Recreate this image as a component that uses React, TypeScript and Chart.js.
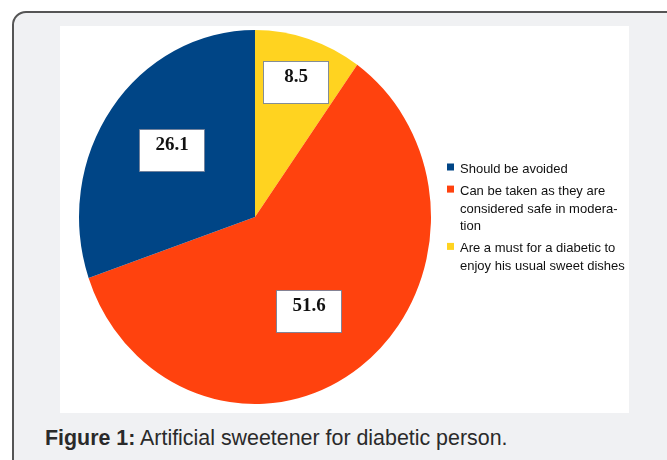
import React, { useEffect, useRef } from "react";
import { Chart, registerables } from "chart.js";

Chart.register(...registerables);

// ---- data (legend order) ----
const categories = [
  "Should be avoided",
  "Can be taken as they are considered safe in moderation",
  "Are a must for a diabetic to enjoy his usual sweet dishes",
];
const legendLines = [
  ["Should be avoided"],
  ["Can be taken as they are", "considered safe in modera-", "tion"],
  ["Are a must for a diabetic to", "enjoy his usual sweet dishes"],
];
const values = [26.1, 51.6, 8.5];
const colors = ["#004586", "#ff420e", "#ffd320"];
const captionBold = "Figure 1:";
const captionText = " Artificial sweetener for diabetic person.";

// ---- style ----
const STRETCH_Y = 1.0625;
const labelRadius = [0.593, 0.588, 0.756];
const labelAngleShift = [1.4, 5.5, 0];
const CANVAS_W = 569;
const CANVAS_H = 387;

const ellipsePlugin = {
  id: "ellipseStretch",
  beforeDatasetsDraw(chart: any) {
    const ctx = chart.ctx;
    ctx.save();
    const arc = chart.getDatasetMeta(0).data[0];
    if (arc) {
      const { x, y } = arc.getProps(["x", "y"], true);
      ctx.translate(x, y);
      ctx.scale(1, STRETCH_Y);
      ctx.translate(-x, -y);
    }
  },
  afterDatasetsDraw(chart: any) {
    chart.ctx.restore();
  },
};

const labelPlugin = {
  id: "valueBoxes",
  afterDraw(chart: any) {
    const ctx = chart.ctx;
    const meta = chart.getDatasetMeta(0);
    const data = chart.data.datasets[0].data as number[];
    const n = data.length;
    meta.data.forEach((el: any, i: number) => {
      const src = n - 1 - i;
      const { x, y, startAngle, endAngle, outerRadius } = el.getProps(
        ["x", "y", "startAngle", "endAngle", "outerRadius"],
        true
      );
      const mid = (startAngle + endAngle) / 2 + (labelAngleShift[src] * Math.PI) / 180;
      const r = outerRadius * labelRadius[src];
      const cx = x + Math.cos(mid) * r;
      const cy = y + Math.sin(mid) * r * STRETCH_Y;
      const bw = 65;
      const bh = 42;
      const left = Math.round(cx - bw / 2) + 0.5;
      const top = Math.round(cy - bh / 2) + 0.5;
      ctx.save();
      ctx.fillStyle = "#ffffff";
      ctx.fillRect(left, top, bw, bh);
      ctx.strokeStyle = "rgba(110,125,150,0.85)";
      ctx.lineWidth = 1;
      ctx.strokeRect(left, top, bw, bh);
      ctx.fillStyle = "#111111";
      ctx.font = "bold 19px 'Liberation Serif', 'Times New Roman', serif";
      ctx.textAlign = "center";
      ctx.textBaseline = "alphabetic";
      ctx.fillText(data[i].toFixed(1), left + bw / 2, top + 20.5);
      ctx.restore();
    });
  },
};

const legendPlugin = {
  id: "wrappedLegend",
  afterDraw(chart: any) {
    const ctx = chart.ctx;
    const squareX = 387;
    const textX = 400;
    const lineH = 17.6;
    const gap = 4.5;
    let baseline = 147;
    ctx.save();
    ctx.font = "13px 'Liberation Sans', Arial, sans-serif";
    ctx.textAlign = "left";
    ctx.textBaseline = "alphabetic";
    legendLines.forEach((lines, i) => {
      ctx.fillStyle = colors[i];
      ctx.fillRect(squareX, baseline - 9.5, 7, 7);
      ctx.fillStyle = "#111111";
      lines.forEach((line, j) => {
        ctx.fillText(line, textX, baseline + j * lineH);
      });
      baseline += lines.length * lineH + gap;
    });
    ctx.restore();
  },
};

export default function App() {
  const canvasRef = useRef<HTMLCanvasElement | null>(null);

  useEffect(() => {
    if (!canvasRef.current) return;
    const order = values.map((_, i) => values.length - 1 - i);
    const chart = new Chart(canvasRef.current, {
      type: "pie",
      data: {
        labels: order.map((i) => categories[i]),
        datasets: [
          {
            data: order.map((i) => values[i]),
            backgroundColor: order.map((i) => colors[i]),
            borderWidth: 0,
            hoverOffset: 0,
            offset: 0,
            clip: false,
          } as any,
        ],
      },
      options: {
        responsive: false,
        animation: false,
        events: [],
        layout: { padding: { left: 19, top: 15, right: 198, bottom: 20 } },
        plugins: {
          legend: { display: false },
          tooltip: { enabled: false },
          title: { display: false },
        },
      },
      plugins: [ellipsePlugin, labelPlugin, legendPlugin],
    });
    return () => chart.destroy();
  }, []);

  return (
    <div
      style={{
        position: "absolute",
        left: 0,
        top: 0,
        width: 667,
        height: 460,
        overflow: "hidden",
        background: "#ffffff",
      }}
    >
      <div
        style={{
          position: "absolute",
          left: 12,
          top: 11,
          width: 680,
          height: 470,
          boxSizing: "border-box",
          border: "2px solid #555555",
          borderRadius: 14,
          background: "#f0f1f3",
        }}
      />
      <div
        style={{
          position: "absolute",
          left: 60,
          top: 26,
          width: CANVAS_W,
          height: CANVAS_H,
          background: "#ffffff",
        }}
      >
        <canvas ref={canvasRef} width={CANVAS_W} height={CANVAS_H} style={{ display: "block" }} />
      </div>
      <div
        style={{
          position: "absolute",
          left: 45,
          top: 428,
          fontFamily: "'Liberation Sans', Arial, sans-serif",
          fontSize: 21.4,
          lineHeight: "21px",
          color: "#2a2a2a",
          whiteSpace: "nowrap",
        }}
      >
        <b>{captionBold}</b>
        {captionText}
      </div>
    </div>
  );
}
